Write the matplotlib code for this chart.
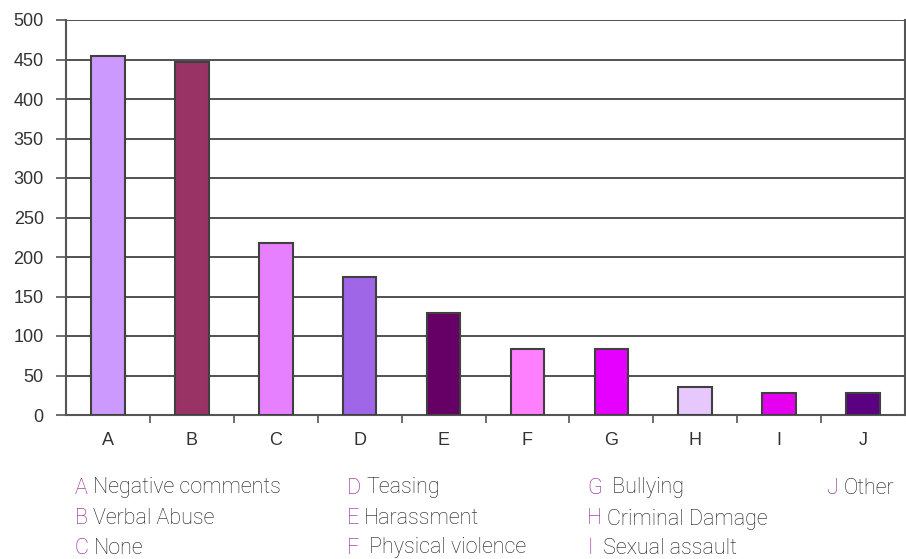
import matplotlib.pyplot as plt

categories = ['A', 'B', 'C', 'D', 'E', 'F', 'G', 'H', 'I', 'J']
values = [454, 447, 218, 175, 129, 84, 84, 35, 28, 28]
bar_colors = ['#cc99ff', '#993366', '#e680ff', '#a066e8', '#660066',
              '#ff80ff', '#e600ff', '#e6c8ff', '#e600f0', '#5a0080']
legend_labels = ['Negative comments', 'Verbal Abuse', 'None', 'Teasing',
                 'Harassment', ' Physical violence', ' Bullying',
                 'Criminal Damage', ' Sexual assault', 'Other']

fig = plt.figure(figsize=(9.06, 5.59), dpi=100)
ax = fig.add_axes([66 / 906, 1 - 415 / 559, 839 / 906, 395 / 559])

x = range(len(categories))
ax.bar(x, values, width=0.4, color=bar_colors, edgecolor='#404040',
       linewidth=1.5, zorder=3)

ax.set_xlim(-0.5, len(categories) - 0.5)
ax.set_ylim(0, 500)
ax.set_yticks(range(0, 501, 50))
ax.yaxis.grid(True, color='#333333', linewidth=1.2, zorder=0)
ax.set_axisbelow(True)

ax.set_xticks(list(x))
ax.set_xticklabels(categories, fontfamily='Liberation Sans', fontsize=13,
                   color='#333333')
ax.set_xticks([i + 0.5 for i in range(len(categories) - 1)], minor=True)
ax.tick_params(axis='x', which='major', length=0, pad=12)
ax.tick_params(axis='x', which='minor', length=6, width=1.2, color='#555555')
ax.tick_params(axis='y', length=7, width=1.2, color='#555555', pad=9,
               labelsize=13, labelcolor='#333333')
for lbl in ax.get_yticklabels():
    lbl.set_fontfamily('Liberation Sans')

ax.spines['top'].set_visible(False)
for side in ['left', 'bottom', 'right']:
    ax.spines[side].set_color('#555555')
    ax.spines[side].set_linewidth(1.5)

# legend text under the chart, three rows per column
col_x = [75, 347, 587, 827]
row_y = [488, 519, 548]
fig.canvas.draw()
r = fig.canvas.get_renderer()
for i, (cat, lab) in enumerate(zip(categories, legend_labels)):
    cx = col_x[i // 3]
    cy = row_y[i % 3]
    t = fig.text(cx / 906, 1 - cy / 559, cat, color='#8a1a8e', fontsize=15.5,
                 fontfamily='Roboto', fontweight='light', va='center')
    w = t.get_window_extent(renderer=r).width
    fig.text((cx + w + 5) / 906, 1 - cy / 559, lab, color='#1a1a1a',
             fontsize=15.5, fontfamily='Roboto', fontweight='light',
             va='center')

fig.savefig('out.png', dpi=100)
